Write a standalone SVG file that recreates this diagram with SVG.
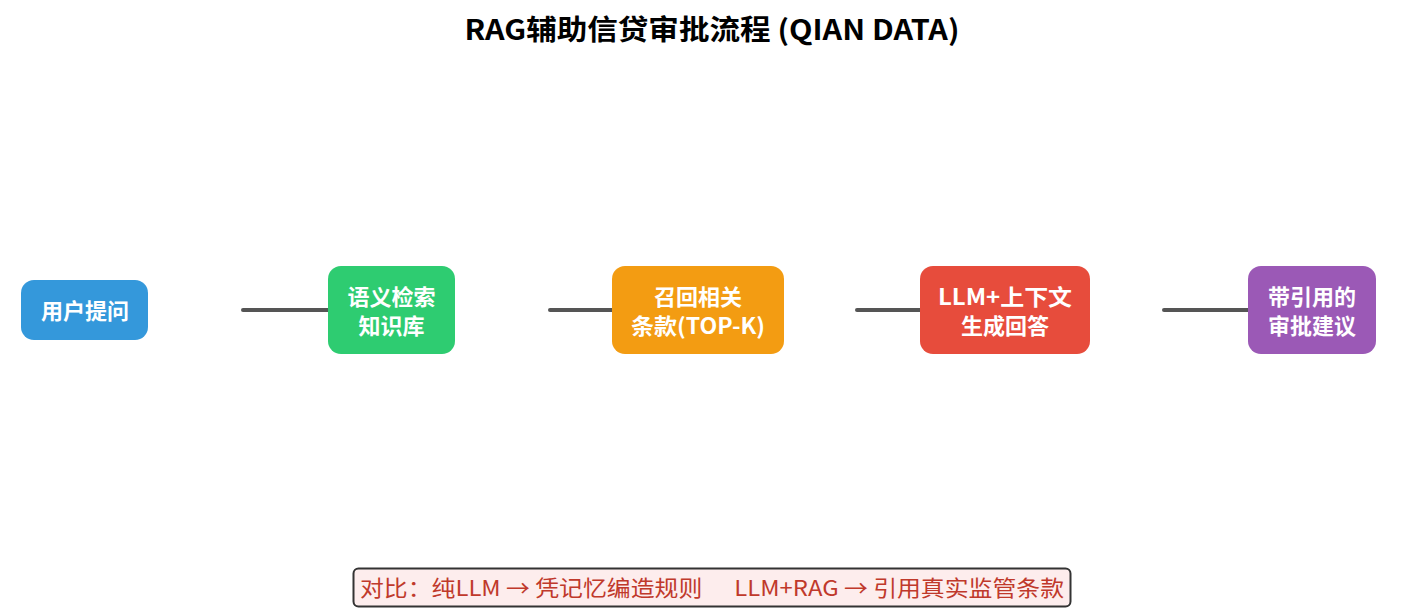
<svg xmlns="http://www.w3.org/2000/svg" width="1425" height="615" viewBox="0 0 1425 615">
<style>
.node text{font-family:"Noto Sans CJK SC","Noto Sans",sans-serif;font-weight:bold;font-size:22px;fill:#fff;text-anchor:middle;dominant-baseline:central}
.conn line{stroke:#555;stroke-width:4;stroke-linecap:round}
.title{font-family:"Noto Sans CJK SC","Noto Sans",sans-serif;font-weight:bold;font-size:28px;fill:#000;text-anchor:middle;dominant-baseline:central}
.note{font-family:"Noto Sans CJK SC","Noto Sans",sans-serif;font-size:22px;fill:#c0392b;text-anchor:middle;dominant-baseline:central}
</style>
<rect width="1425" height="615" fill="#fff"/>
<text class="title" x="712" y="28" textLength="495" lengthAdjust="spacingAndGlyphs">RAG辅助信贷审批流程 (QIAN DATA)</text>
<g class="conn" id="connectors">
<line x1="243" y1="310" x2="330" y2="310"/>
<line x1="550" y1="310" x2="614" y2="310"/>
<line x1="857" y1="310" x2="922" y2="310"/>
<line x1="1164" y1="310" x2="1250" y2="310"/>
</g>
<g class="node" id="n1">
<rect x="21" y="280" width="127" height="60" rx="13" fill="#3498db"/>
<text x="85" y="309">用户提问</text>
</g>
<g class="node" id="n2">
<rect x="328" y="266" width="127" height="88" rx="13" fill="#2ecc71"/>
<text x="391.5" y="295">语义检索</text>
<text x="391.5" y="324">知识库</text>
</g>
<g class="node" id="n3">
<rect x="612" y="266" width="172" height="88" rx="13" fill="#f39c12"/>
<text x="698" y="295">召回相关</text>
<text x="698" y="324" textLength="134" lengthAdjust="spacingAndGlyphs">条款(TOP-K)</text>
</g>
<g class="node" id="n4">
<rect x="920" y="266" width="170" height="88" rx="13" fill="#e74c3c"/>
<text x="1005" y="295" textLength="134" lengthAdjust="spacingAndGlyphs">LLM+上下文</text>
<text x="1005" y="324">生成回答</text>
</g>
<g class="node" id="n5">
<rect x="1248" y="266" width="128" height="88" rx="13" fill="#9b59b6"/>
<text x="1312" y="295">带引用的</text>
<text x="1312" y="324">审批建议</text>
</g>
<g id="note">
<rect x="353.5" y="568.5" width="717" height="38" rx="5" fill="#fdeded" stroke="#333" stroke-width="2"/>
<text class="note" x="712" y="586" textLength="704" lengthAdjust="spacingAndGlyphs" xml:space="preserve">对比：纯LLM → 凭记忆编造规则      LLM+RAG → 引用真实监管条款</text>
</g>
</svg>
